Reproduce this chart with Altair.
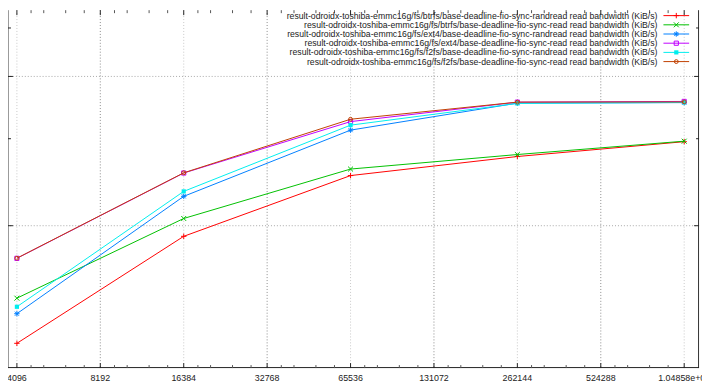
import altair as alt
import pandas as pd

# ---------------- data ----------------
block_sizes = [4096, 16384, 65536, 262144, 1048576]

series_names = [
    "result-odroidx-toshiba-emmc16g/fs/btrfs/base-deadline-fio-sync-randread read bandwidth (KiB/s)",
    "result-odroidx-toshiba-emmc16g/fs/btrfs/base-deadline-fio-sync-read read bandwidth (KiB/s)",
    "result-odroidx-toshiba-emmc16g/fs/ext4/base-deadline-fio-sync-randread read bandwidth (KiB/s)",
    "result-odroidx-toshiba-emmc16g/fs/ext4/base-deadline-fio-sync-read read bandwidth (KiB/s)",
    "result-odroidx-toshiba-emmc16g/fs/f2fs/base-deadline-fio-sync-randread read bandwidth (KiB/s)",
    "result-odroidx-toshiba-emmc16g/fs/f2fs/base-deadline-fio-sync-read read bandwidth (KiB/s)",
]

btrfs_randread = [1630, 8490, 21670, 29080, 36550]
btrfs_read = [3270, 11180, 23960, 29980, 36830]
ext4_randread = [2574, 15730, 43690, 66250, 66760]
ext4_read = [6046, 22540, 49820, 67260, 68000]
f2fs_randread = [2864, 16980, 47160, 65950, 66960]
f2fs_read = [6060, 22610, 51670, 67260, 67480]
all_values = [btrfs_randread, btrfs_read, ext4_randread, ext4_read, f2fs_randread, f2fs_read]

x_ticks = [4096, 8192, 16384, 32768, 65536, 131072, 262144, 524288, 1048576]
x_tick_labels = ["4096", "8192", "16384", "32768", "65536", "131072", "262144", "524288", "1.04858e+06"]
x_grid_dark = [8192, 32768, 131072, 524288]
x_grid_light = [4096, 16384, 65536, 262144, 1048576]
minor_multipliers = [1.125, 1.25, 1.5, 1.75]
y_grid = [10000, 100000]
y_minor = [38260, 211100]

colors = ["#ff0000", "#00c000", "#0080ff", "#c000ff", "#00eeee", "#c04000"]

# ---------------- styling ----------------
PLUS = "M-1,0L1,0M0,-1L0,1"
XSHP = "M-1,-1L1,1M-1,1L1,-1"
STAR = "M-1,0L1,0M0,-1L0,1M-0.75,-0.75L0.75,0.75M-0.75,0.75L0.75,-0.75"
shapes = [PLUS, XSHP, STAR, "square", "square", "circle"]
filled = [False, False, False, False, True, False]
sizes = [30, 25, 30, 18, 18, 15]

W, H = 699, 362
FONT = "Liberation Sans"
xs = alt.Scale(type="log", base=2, domain=[3804, 1186150], nice=False)
ys = alt.Scale(type="log", domain=[1113, 277800], nice=False)

layers = []

# grid lines
layers.append(alt.Chart(pd.DataFrame({"v": x_grid_light})).mark_rule(
    color="#c8c8c8", strokeWidth=1, strokeDash=[1, 2]).encode(x=alt.X("v:Q", scale=xs, axis=None)))
layers.append(alt.Chart(pd.DataFrame({"v": x_grid_dark})).mark_rule(
    color="#8c8c8c", strokeWidth=1, strokeDash=[1, 2]).encode(x=alt.X("v:Q", scale=xs, axis=None)))
layers.append(alt.Chart(pd.DataFrame({"v": y_grid})).mark_rule(
    color="#a8a8a8", strokeWidth=1, strokeDash=[1, 2]).encode(y=alt.Y("v:Q", scale=ys, axis=None)))

# border lines
layers.append(alt.Chart(pd.DataFrame({"a": [0]})).mark_rule(color="#999999", strokeWidth=1).encode(
    x=alt.value(0.5), y=alt.value(0), y2=alt.value(H)))
layers.append(alt.Chart(pd.DataFrame({"a": [0]})).mark_rule(color="#333333", strokeWidth=1).encode(
    x=alt.value(W - 0.5), y=alt.value(0), y2=alt.value(H)))
layers.append(alt.Chart(pd.DataFrame({"a": [0]})).mark_rule(color="#222222", strokeWidth=1).encode(
    x=alt.value(0), x2=alt.value(W), y=alt.value(H - 0.5)))

# ticks (inward)
minor_x = [t * m for t in x_ticks[:-1] for m in minor_multipliers]
for vals, ln, col in [(x_ticks, 5, "#222222"), (minor_x, 3, "#555555")]:
    d = pd.DataFrame({"v": vals})
    layers.append(alt.Chart(d).mark_rule(color=col, strokeWidth=1).encode(
        x=alt.X("v:Q", scale=xs, axis=None), y=alt.value(H), y2=alt.value(H - ln)))
    layers.append(alt.Chart(d).mark_rule(color=col, strokeWidth=1).encode(
        x=alt.X("v:Q", scale=xs, axis=None), y=alt.value(0), y2=alt.value(ln)))
for vals, ln in [(y_grid, 5), (y_minor, 3)]:
    d = pd.DataFrame({"v": vals})
    layers.append(alt.Chart(d).mark_rule(color="#222222", strokeWidth=1).encode(
        y=alt.Y("v:Q", scale=ys, axis=None), x=alt.value(0), x2=alt.value(ln)))
    layers.append(alt.Chart(d).mark_rule(color="#222222", strokeWidth=1).encode(
        y=alt.Y("v:Q", scale=ys, axis=None), x=alt.value(W), x2=alt.value(W - ln)))

# x tick labels
layers.append(alt.Chart(pd.DataFrame({"v": x_ticks, "t": x_tick_labels})).mark_text(
    font=FONT, fontSize=9, color="#222222", baseline="middle", align="center").encode(
    x=alt.X("v:Q", scale=xs, axis=None), y=alt.value(H + 10.5), text="t:N"))

# series lines + points
for i, (name, vals) in enumerate(zip(series_names, all_values)):
    d = pd.DataFrame({"bs": block_sizes, "bw": vals})
    base = alt.Chart(d)
    enc = dict(x=alt.X("bs:Q", scale=xs, axis=None), y=alt.Y("bw:Q", scale=ys, axis=None))
    layers.append(base.mark_line(color=colors[i], strokeWidth=1).encode(**enc))
    layers.append(base.mark_point(shape=shapes[i], filled=filled[i], size=sizes[i],
                                  color=colors[i], strokeWidth=1, opacity=1).encode(**enc))

# legend (gnuplot style: text left, sample right)
for i, name in enumerate(series_names):
    ly = 5.5 + 9.3 * i
    d = pd.DataFrame({"t": [name]})
    layers.append(alt.Chart(d).mark_text(font=FONT, fontSize=8.8, color="#222222",
                                         align="right", baseline="middle").encode(
        x=alt.value(657), y=alt.value(ly), text="t:N"))
    layers.append(alt.Chart(d).mark_rule(color=colors[i], strokeWidth=1).encode(
        x=alt.value(663), x2=alt.value(689), y=alt.value(ly)))
    layers.append(alt.Chart(d).mark_point(shape=shapes[i], filled=filled[i], size=sizes[i],
                                          color=colors[i], strokeWidth=1, opacity=1).encode(
        x=alt.value(676), y=alt.value(ly)))

chart = alt.layer(*layers).properties(
    width=W, height=H,
    autosize=alt.AutoSizeParams(type="none"),
    padding={"left": 0, "top": 0, "right": 3, "bottom": 21},
    background="white",
).configure_view(stroke=None)

chart.save("out.html", embed_options={"renderer": "svg", "actions": False})
